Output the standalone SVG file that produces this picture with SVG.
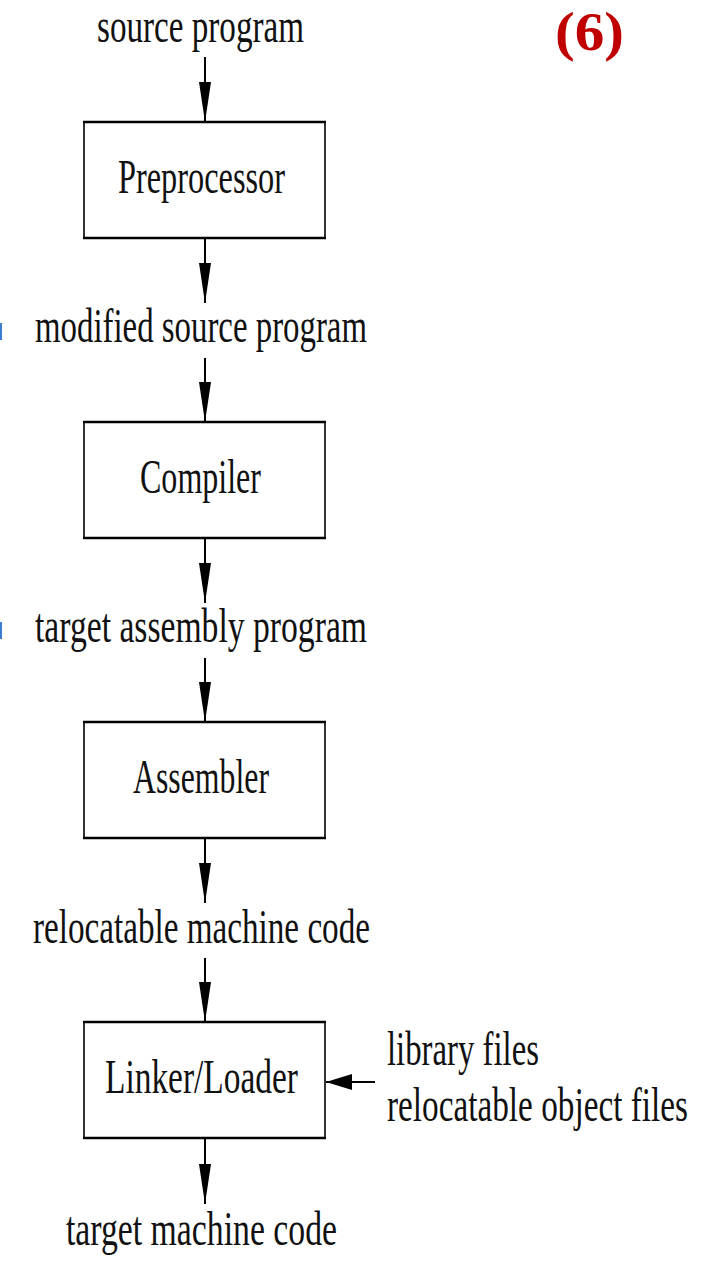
<svg xmlns="http://www.w3.org/2000/svg" width="705" height="1261" viewBox="0 0 705 1261">
  <style>
    .lbl { font-family: "Liberation Serif", "DejaVu Serif", serif; font-size: 48px; fill: #111; }
    .box { fill: #fff; stroke: #000; stroke-width: 1.6; }
    .edge { stroke: #000; stroke-width: 2.6; }
    .conn { stroke: #000; stroke-width: 2; fill: none; }
    .tag { font-family: "Liberation Serif", serif; font-weight: bold; font-size: 54px; fill: #C00000; }
    .tick { fill: #3b7ed0; }
  </style>
  <defs>
    <marker id="headV" markerUnits="userSpaceOnUse" markerWidth="40" markerHeight="12" refX="40" refY="6" orient="auto">
      <path d="M0,0 L40,6 L0,12 Z" fill="#000"/>
    </marker>
    <marker id="headH" markerUnits="userSpaceOnUse" markerWidth="26" markerHeight="16" refX="26" refY="8" orient="auto">
      <path d="M0,0 L26,8 L0,16 Z" fill="#000"/>
    </marker>
  </defs>

  <rect fill="#fff" x="0" y="0" width="705" height="1261"/>

  <!-- small margin ticks -->
  <rect class="tick" x="0" y="323" width="2" height="17"/>
  <rect class="tick" x="0" y="622" width="2" height="17"/>

  <text class="tag" x="555" y="50" textLength="69" lengthAdjust="spacingAndGlyphs">(6)</text>

  <!-- flow labels -->
  <g id="labels">
    <text class="lbl" x="97" y="42" textLength="207" lengthAdjust="spacingAndGlyphs">source program</text>
    <text class="lbl" x="35" y="342" textLength="332" lengthAdjust="spacingAndGlyphs">modified source program</text>
    <text class="lbl" x="35" y="642" textLength="332" lengthAdjust="spacingAndGlyphs">target assembly program</text>
    <text class="lbl" x="33" y="943" textLength="337" lengthAdjust="spacingAndGlyphs">relocatable machine code</text>
    <text class="lbl" x="387" y="1065" textLength="152" lengthAdjust="spacingAndGlyphs">library files</text>
    <text class="lbl" x="387" y="1121" textLength="301" lengthAdjust="spacingAndGlyphs">relocatable object files</text>
    <text class="lbl" x="66" y="1245" textLength="271" lengthAdjust="spacingAndGlyphs">target machine code</text>
  </g>

  <!-- processing stages -->
  <g id="preprocessor">
    <rect class="box" x="84" y="122" width="241" height="116"/>
    <line class="edge" x1="83" y1="122" x2="326" y2="122"/>
    <line class="edge" x1="83" y1="238" x2="326" y2="238"/>
    <text class="lbl" x="118" y="193" textLength="167" lengthAdjust="spacingAndGlyphs">Preprocessor</text>
  </g>
  <g id="compiler">
    <rect class="box" x="84" y="422" width="241" height="116"/>
    <line class="edge" x1="83" y1="422" x2="326" y2="422"/>
    <line class="edge" x1="83" y1="538" x2="326" y2="538"/>
    <text class="lbl" x="140" y="493" textLength="121" lengthAdjust="spacingAndGlyphs">Compiler</text>
  </g>
  <g id="assembler">
    <rect class="box" x="84" y="722" width="241" height="116"/>
    <line class="edge" x1="83" y1="722" x2="326" y2="722"/>
    <line class="edge" x1="83" y1="838" x2="326" y2="838"/>
    <text class="lbl" x="133" y="793" textLength="136" lengthAdjust="spacingAndGlyphs">Assembler</text>
  </g>
  <g id="linker-loader">
    <rect class="box" x="84" y="1022" width="241" height="116"/>
    <line class="edge" x1="83" y1="1022" x2="326" y2="1022"/>
    <line class="edge" x1="83" y1="1138" x2="326" y2="1138"/>
    <text class="lbl" x="105" y="1093" textLength="193" lengthAdjust="spacingAndGlyphs">Linker/Loader</text>
  </g>

  <!-- connectors -->
  <g id="connectors">
    <line class="conn" x1="205" y1="57" x2="205" y2="122" marker-end="url(#headV)"/>
    <line class="conn" x1="205" y1="238" x2="205" y2="303" marker-end="url(#headV)"/>
    <line class="conn" x1="205" y1="358" x2="205" y2="422" marker-end="url(#headV)"/>
    <line class="conn" x1="205" y1="538" x2="205" y2="603" marker-end="url(#headV)"/>
    <line class="conn" x1="205" y1="658" x2="205" y2="722" marker-end="url(#headV)"/>
    <line class="conn" x1="205" y1="838" x2="205" y2="903" marker-end="url(#headV)"/>
    <line class="conn" x1="205" y1="958" x2="205" y2="1022" marker-end="url(#headV)"/>
    <line class="conn" x1="205" y1="1138" x2="205" y2="1204" marker-end="url(#headV)"/>
    <line class="conn" x1="375" y1="1082" x2="326" y2="1082" marker-end="url(#headH)"/>
  </g>
</svg>
